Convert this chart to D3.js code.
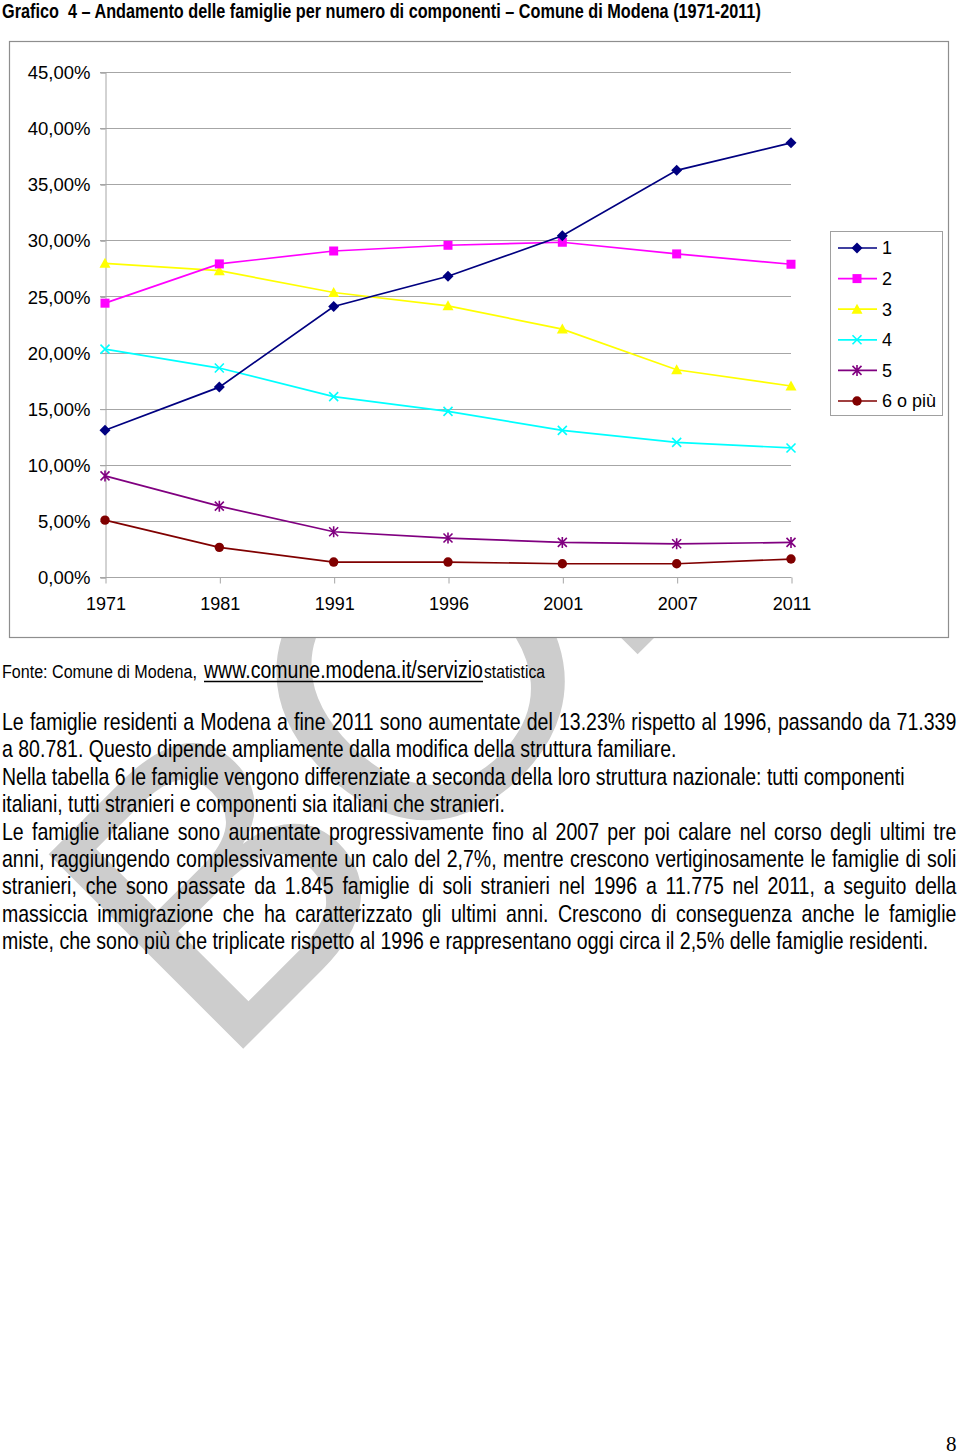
<!DOCTYPE html>
<html>
<head>
<meta charset="utf-8">
<script src="https://cdn.jsdelivr.net/npm/d3@7"></script>
<style>
  html, body { margin: 0; padding: 0; background: #fff; }
  svg { display: block; }
</style>
</head>
<body>
<script>
// ---------- DATA ----------
const years = ["1971", "1981", "1991", "1996", "2001", "2007", "2011"];
const seriesNames = ["1", "2", "3", "4", "5", "6 o più"];
const s1 = [13.07, 16.92, 24.10, 26.80, 30.40, 36.24, 38.69];
const s2 = [24.40, 27.90, 29.05, 29.56, 29.83, 28.79, 27.87];
const s3 = [27.95, 27.30, 25.35, 24.16, 22.09, 18.47, 17.02];
const s4 = [20.30, 18.62, 16.07, 14.76, 13.07, 12.00, 11.50];
const s5 = [9.01, 6.31, 4.03, 3.47, 3.08, 2.96, 3.08];
const s6 = [5.07, 2.64, 1.33, 1.33, 1.18, 1.18, 1.60];
const yTicks = [0, 5, 10, 15, 20, 25, 30, 35, 40, 45];

const titleText = "Grafico  4 – Andamento delle famiglie per numero di componenti – Comune di Modena (1971-2011)";
const sourceParts = ["Fonte: Comune di Modena,", "www.comune.modena.it/servizio", "statistica"];
const bodyLines = [
  "Le famiglie residenti a Modena a fine 2011 sono aumentate del 13.23% rispetto al 1996, passando da 71.339",
  "a 80.781. Questo dipende ampliamente dalla modifica della struttura familiare.",
  "Nella tabella 6 le famiglie vengono differenziate a seconda della loro struttura nazionale: tutti componenti",
  "italiani, tutti stranieri e componenti sia italiani che stranieri.",
  "Le famiglie italiane sono aumentate progressivamente fino al 2007 per poi calare nel corso degli ultimi tre",
  "anni, raggiungendo complessivamente un calo del 2,7%, mentre crescono vertiginosamente le famiglie di soli",
  "stranieri, che sono passate da 1.845 famiglie di soli stranieri nel 1996 a 11.775 nel 2011, a seguito della",
  "massiccia immigrazione che ha caratterizzato gli ultimi anni. Crescono di conseguenza anche le famiglie",
  "miste, che sono più che triplicate rispetto al 1996 e rappresentano oggi circa il 2,5% delle famiglie residenti."
];
const pageNumber = "8";
const watermarkText = "BOZZA";

// ---------- STYLE / LAYOUT ----------
const W = 960, H = 1455;
const colors = ["#000080", "#ff00ff", "#ffff00", "#00ffff", "#800080", "#800000"];
const markers = ["diamond", "square", "triangle", "x", "star", "circle"];
const seriesData = [s1, s2, s3, s4, s5, s6];
const sansChart = "'Liberation Sans', Arial, Helvetica, sans-serif";

const svg = d3.select("body").append("svg").attr("width", W).attr("height", H);

// Watermark (behind everything, only visible below the chart frame)
svg.append("defs").append("clipPath").attr("id", "wmclip")
  .append("rect").attr("x", 0).attr("y", 638).attr("width", W).attr("height", H - 638);
svg.append("g").attr("clip-path", "url(#wmclip)")
  .append("text")
  .attr("transform", "translate(220,1072) rotate(-45)")
  .attr("font-family", sansChart)
  .attr("font-size", 400)
  .attr("fill", "#cdcdcd")
  .text(watermarkText);

// Chart box
svg.append("rect")
  .attr("x", 9.5).attr("y", 41.5).attr("width", 939).attr("height", 596)
  .attr("fill", "#fff").attr("stroke", "#8e8e8e").attr("stroke-width", 1.2);

const x = d3.scalePoint().domain(years).range([105, 791]);
const y = d3.scaleLinear().domain([0, 45]).range([577, 72]);

const plot = svg.append("g");

// gridlines
plot.append("g").selectAll("line").data(yTicks).join("line")
  .attr("x1", 100).attr("x2", 791)
  .attr("y1", d => Math.round(y(d)) + 0.5).attr("y2", d => Math.round(y(d)) + 0.5)
  .attr("stroke", "#a6a6a6").attr("stroke-width", 1);

// y axis
const yAxis = plot.append("g").attr("transform", "translate(105.5,0.5)")
  .call(d3.axisLeft(y).tickValues(yTicks).tickSize(5).tickPadding(10)
    .tickFormat(d => d3.format(".2f")(d).replace(".", ",") + "%"));
yAxis.select(".domain").attr("stroke", "#a6a6a6");
yAxis.selectAll(".tick line").attr("stroke", "#a6a6a6");
yAxis.selectAll(".tick text").attr("font-family", sansChart).attr("font-size", 18.5).attr("fill", "#000").attr("dy", "0.33em");

// x axis
const xAxis = plot.append("g").attr("transform", "translate(0.5,577.5)")
  .call(d3.axisBottom(x).tickSize(6).tickPadding(14));
xAxis.select(".domain").attr("stroke", "#a6a6a6").attr("d", `M${104.5},0H${791}`);
xAxis.selectAll(".tick line").attr("stroke", "#a6a6a6");
xAxis.selectAll(".tick text").attr("font-family", sansChart).attr("font-size", 18).attr("fill", "#000");

// marker drawing
function drawMarker(g, type, cx, cy, color) {
  switch (type) {
    case "diamond":
      g.append("path").attr("d", `M${cx},${cy - 5.5}L${cx + 5.5},${cy}L${cx},${cy + 5.5}L${cx - 5.5},${cy}Z`).attr("fill", color);
      break;
    case "square":
      g.append("rect").attr("x", cx - 4.5).attr("y", cy - 4.5).attr("width", 9).attr("height", 9).attr("fill", color);
      break;
    case "triangle":
      g.append("path").attr("d", `M${cx},${cy - 5.5}L${cx + 5.5},${cy + 4.5}L${cx - 5.5},${cy + 4.5}Z`).attr("fill", color);
      break;
    case "x":
      g.append("path").attr("d", `M${cx - 4.5},${cy - 4.5}L${cx + 4.5},${cy + 4.5}M${cx + 4.5},${cy - 4.5}L${cx - 4.5},${cy + 4.5}`)
        .attr("stroke", color).attr("stroke-width", 1.6).attr("fill", "none");
      break;
    case "star":
      g.append("path").attr("d", `M${cx - 4.5},${cy - 4.5}L${cx + 4.5},${cy + 4.5}M${cx + 4.5},${cy - 4.5}L${cx - 4.5},${cy + 4.5}M${cx},${cy - 5.5}L${cx},${cy + 5.5}`)
        .attr("stroke", color).attr("stroke-width", 1.6).attr("fill", "none");
      break;
    case "circle":
      g.append("circle").attr("cx", cx).attr("cy", cy).attr("r", 4.7).attr("fill", color);
      break;
  }
}

const line = d3.line().x((d, i) => x(years[i])).y(d => y(d));

const order = [5, 4, 3, 2, 1, 0];
order.forEach(si => {
  const g = plot.append("g");
  g.append("path").attr("d", line(seriesData[si]))
    .attr("fill", "none").attr("stroke", colors[si]).attr("stroke-width", 1.7);
  seriesData[si].forEach((v, i) => drawMarker(g, markers[si], x(years[i]), y(v), colors[si]));
});

// legend
const leg = svg.append("g");
leg.append("rect").attr("x", 830.5).attr("y", 231.5).attr("width", 112).attr("height", 184)
  .attr("fill", "#fff").attr("stroke", "#a0a0a0").attr("stroke-width", 1);
seriesNames.forEach((name, i) => {
  const ly = 248 + i * 30.6;
  leg.append("line").attr("x1", 838).attr("x2", 877).attr("y1", ly).attr("y2", ly)
    .attr("stroke", colors[i]).attr("stroke-width", 1.7);
  drawMarker(leg, markers[i], 857, ly, colors[i]);
  leg.append("text").attr("x", 882).attr("y", ly).attr("dy", "0.35em")
    .attr("font-family", sansChart).attr("font-size", 18).attr("fill", "#000").text(name);
});

// helper: draw narrow text by horizontally scaling a regular face
function narrowText(str, x0, yb, size, targetW, opts = {}) {
  const g = svg.append("g");
  const t = g.append("text").attr("x", 0).attr("y", 0)
    .attr("font-family", sansChart).attr("font-size", size).attr("fill", "#000")
    .attr("font-weight", opts.bold ? "bold" : "normal")
    .text(str);
  if (opts.pre) t.style("white-space", "pre");
  const nat = t.node().getComputedTextLength();
  let sx = opts.sx || (targetW / nat);
  if (opts.justify) {
    const spaces = (str.match(/ /g) || []).length;
    const need = targetW / sx - nat;
    if (need > 0 && spaces > 0) t.attr("word-spacing", need / spaces);
    else sx = targetW / nat;
  }
  g.attr("transform", `translate(${x0},${yb}) scale(${sx},1)`);
  return { g, nat, sx };
}

// title
narrowText(titleText, 2, 18, 20, 759, { bold: true, pre: true });

// source line
narrowText(sourceParts[0], 2, 678, 18, 195);
narrowText(sourceParts[1], 204, 678, 24, 279);
narrowText(sourceParts[2], 484, 678, 18, 61);
svg.append("line").attr("x1", 204).attr("x2", 483).attr("y1", 681.5).attr("y2", 681.5)
  .attr("stroke", "#000").attr("stroke-width", 1.3);

// body text
const lineTargets = [955, 675, 903, 503, 955, 955, 955, 955, 927];
const justified = [true, false, false, false, true, true, true, true, false];
const probe = svg.append("text").attr("font-family", sansChart).attr("font-size", 24).text(bodyLines[1]);
const commonSx = lineTargets[1] / probe.node().getComputedTextLength();
probe.remove();
bodyLines.forEach((t, i) => {
  narrowText(t, 2, 730 + i * 27.4, 24, lineTargets[i], justified[i] ? { justify: true, sx: commonSx } : {});
});

// page number
svg.append("text").attr("x", 946).attr("y", 1451)
  .attr("font-family", "'Liberation Serif', 'Times New Roman', serif").attr("font-size", 21)
  .attr("fill", "#000").text(pageNumber);
</script>
</body>
</html>
